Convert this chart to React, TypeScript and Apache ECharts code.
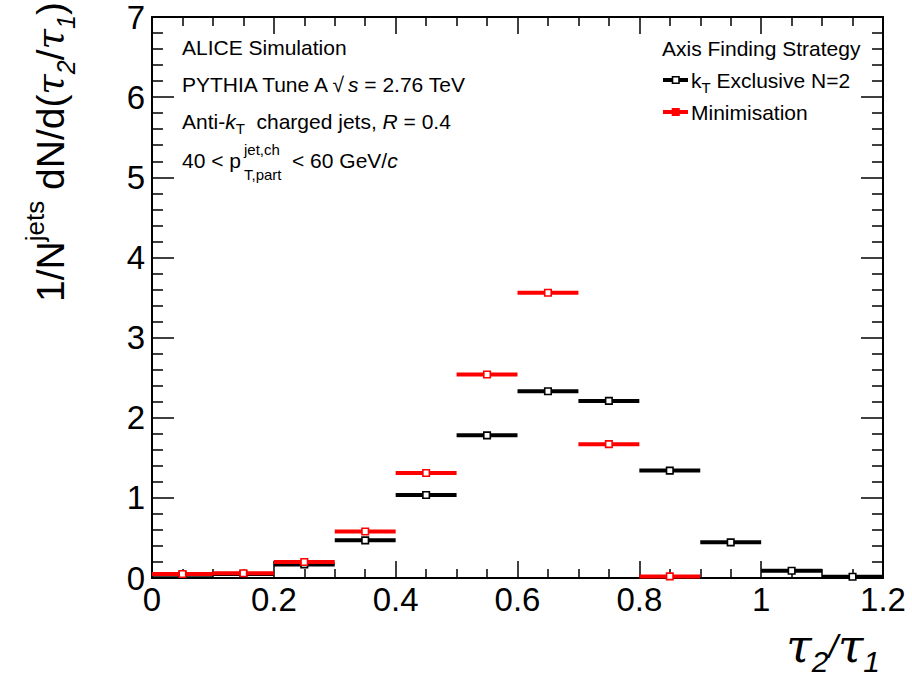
import React, { useEffect, useRef } from "react";
import * as echarts from "echarts";

// ---- data ----
const binLow = [0, 0.1, 0.2, 0.3, 0.4, 0.5, 0.6, 0.7, 0.8, 0.9, 1.0, 1.1];
const binHigh = [0.1, 0.2, 0.3, 0.4, 0.5, 0.6, 0.7, 0.8, 0.9, 1.0, 1.1, 1.2];
const ktExclusive = [0.04, 0.05, 0.17, 0.47, 1.035, 1.78, 2.33, 2.21, 1.34, 0.445, 0.09, 0.016];
const minimisation = [0.05, 0.06, 0.2, 0.58, 1.31, 2.54, 3.56, 1.67, 0.02];

const seriesNames = ["kT Exclusive N=2", "Minimisation"];
const seriesColors = ["#000000", "#ff0000"];

const SANS = "'Liberation Sans', Arial, Helvetica, sans-serif";
const SERIF = "'DejaVu Serif', 'Liberation Serif', serif";

function buildData(values: number[]) {
  return values.map((v, i) => [binLow[i], binHigh[i], v]);
}

function makeSeries(name: string, values: number[], color: string) {
  return {
    type: "custom",
    name,
    clip: false,
    data: buildData(values),
    encode: { x: [0, 1], y: 2 },
    renderItem: (params: any, api: any) => {
      const lo = api.value(0);
      const hi = api.value(1);
      const v = api.value(2);
      const p0 = api.coord([lo, v]);
      const p1 = api.coord([hi, v]);
      const pc = api.coord([(lo + hi) / 2, v]);
      const s = 6.5;
      return {
        type: "group",
        children: [
          {
            type: "line",
            shape: { x1: p0[0], y1: p0[1], x2: p1[0], y2: p1[1] },
            style: { stroke: color, lineWidth: 4 },
          },
          {
            type: "rect",
            shape: { x: pc[0] - s / 2, y: pc[1] - s / 2, width: s, height: s },
            style: { fill: "#ffffff", stroke: color, lineWidth: 1.6 },
          },
        ],
      };
    },
  };
}

const baseText = { fontFamily: SANS, fontSize: 21, fill: "#000" };

export default function App() {
  const ref = useRef<HTMLDivElement>(null);

  useEffect(() => {
    document.body.style.margin = "0";
    if (!ref.current) return;
    const chart = echarts.init(ref.current, undefined, { renderer: "svg" });

    const axisLine = { show: true, onZero: false, lineStyle: { color: "#000", width: 2 } };
    const xCommon = {
      type: "value",
      min: 0,
      max: 1.2,
      interval: 0.2,
      axisLine,
      axisTick: { show: true, inside: true, length: 17, lineStyle: { color: "#000", width: 1.5 } },
      minorTick: { show: true, splitNumber: 4, length: 9, lineStyle: { color: "#000", width: 1.5 } },
      splitLine: { show: false },
      minorSplitLine: { show: false },
    };
    const yCommon = {
      type: "value",
      min: 0,
      max: 7,
      interval: 1,
      axisLine,
      axisTick: { show: true, inside: true, length: 22, lineStyle: { color: "#000", width: 1.5 } },
      minorTick: { show: true, splitNumber: 5, length: 11, lineStyle: { color: "#000", width: 1.5 } },
      splitLine: { show: false },
      minorSplitLine: { show: false },
    };

    const legendY = [80, 112];
    const legendChildren: any[] = [];
    seriesColors.forEach((c, i) => {
      legendChildren.push({
        type: "line",
        shape: { x1: 663, y1: legendY[i], x2: 688, y2: legendY[i] },
        style: { stroke: c, lineWidth: 4 },
      });
      legendChildren.push({
        type: "rect",
        shape: { x: 672.5, y: legendY[i] - 3.25, width: 6.5, height: 6.5 },
        style: { fill: i === 0 ? "#fff" : c, stroke: c, lineWidth: 1.6 },
      });
    });

    const subRich = {
      n: { fontFamily: SANS, fontSize: 21, lineHeight: 30, verticalAlign: "middle" },
      i: { fontFamily: SANS, fontSize: 21, fontStyle: "italic", lineHeight: 30, verticalAlign: "middle" },
      s: { fontFamily: SANS, fontSize: 15, verticalAlign: "bottom" },
    };

    const option: any = {
      animation: false,
      backgroundColor: "#fff",
      grid: { left: 152, right: 29, top: 17, bottom: 103, containLabel: false },
      xAxis: [
        {
          ...xCommon,
          position: "bottom",
          axisLabel: { show: true, fontFamily: SANS, fontSize: 33, color: "#000", margin: 5 },
        },
        { ...xCommon, position: "top", axisLabel: { show: false } },
      ],
      yAxis: [
        {
          ...yCommon,
          position: "left",
          axisLabel: { show: true, fontFamily: SANS, fontSize: 33, color: "#000", margin: 7 },
        },
        { ...yCommon, position: "right", axisLabel: { show: false } },
      ],
      series: [
        makeSeries(seriesNames[0], ktExclusive, seriesColors[0]),
        makeSeries(seriesNames[1], minimisation, seriesColors[1]),
      ],
      graphic: [
        // annotations
        { type: "text", x: 182, y: 47, style: { ...baseText, text: "ALICE Simulation", verticalAlign: "middle" } },
        {
          type: "text",
          x: 182,
          y: 84,
          style: {
            ...baseText,
            text: "PYTHIA Tune A √{i|s} = 2.76 TeV",
            verticalAlign: "middle",
            rich: { i: { fontFamily: SANS, fontSize: 21, fontStyle: "italic" } },
          },
        },
        {
          type: "text",
          x: 182,
          y: 121,
          style: {
            ...baseText,
            text: "{n|Anti-}{i|k}{s|T}{n|  charged jets, }{i|R}{n| = 0.4}",
            verticalAlign: "middle",
            rich: subRich,
          },
        },
        { type: "text", x: 182, y: 160, style: { ...baseText, text: "40 < p", verticalAlign: "middle" } },
        { type: "text", x: 244, y: 149, style: { ...baseText, fontSize: 15, text: "jet,ch", verticalAlign: "middle" } },
        { type: "text", x: 244, y: 174, style: { ...baseText, fontSize: 15, text: "T,part", verticalAlign: "middle" } },
        {
          type: "text",
          x: 292,
          y: 160,
          style: {
            ...baseText,
            text: "< 60 GeV/{i|c}",
            verticalAlign: "middle",
            rich: { i: { fontFamily: SANS, fontSize: 21, fontStyle: "italic" } },
          },
        },
        // legend
        { type: "text", x: 662, y: 48, style: { ...baseText, text: "Axis Finding Strategy", verticalAlign: "middle" } },
        ...legendChildren,
        {
          type: "text",
          x: 691,
          y: legendY[0],
          style: {
            ...baseText,
            text: "{n|k}{s|T}{n| Exclusive N=2}",
            verticalAlign: "middle",
            rich: subRich,
          },
        },
        { type: "text", x: 691, y: legendY[1], style: { ...baseText, text: "Minimisation", verticalAlign: "middle" } },
        // y axis title
        {
          type: "text",
          x: 50,
          y: 152,
          rotation: Math.PI / 2,
          style: {
            text: "{a|1/N}{p|jets}{a| dN/d(}{t|τ}{b|2}{a|/}{t|τ}{b|1}{a|)}",
            textAlign: "center",
            verticalAlign: "middle",
            fill: "#000",
            rich: {
              a: { fontFamily: SANS, fontSize: 39, lineHeight: 56, verticalAlign: "middle" },
              p: { fontFamily: SANS, fontSize: 26, verticalAlign: "top" },
              t: { fontFamily: SERIF, fontStyle: "italic", fontSize: 37, lineHeight: 56, verticalAlign: "middle" },
              b: { fontFamily: SANS, fontStyle: "italic", fontSize: 25, verticalAlign: "bottom" },
            },
          },
        },
        // x axis title
        {
          type: "text",
          x: 880,
          y: 616,
          style: {
            text: "{t|τ}{b|2}{a|/}{t|τ}{b|1}",
            textAlign: "right",
            verticalAlign: "top",
            fill: "#000",
            rich: {
              t: { fontFamily: SERIF, fontStyle: "italic", fontSize: 46, lineHeight: 60, verticalAlign: "middle" },
              a: { fontFamily: SANS, fontStyle: "italic", fontSize: 34, lineHeight: 60, verticalAlign: "middle" },
              b: { fontFamily: SANS, fontStyle: "italic", fontSize: 30, verticalAlign: "bottom" },
            },
          },
        },
      ],
    };

    chart.setOption(option);
    return () => chart.dispose();
  }, []);

  return <div ref={ref} style={{ width: 912, height: 681 }} />;
}
